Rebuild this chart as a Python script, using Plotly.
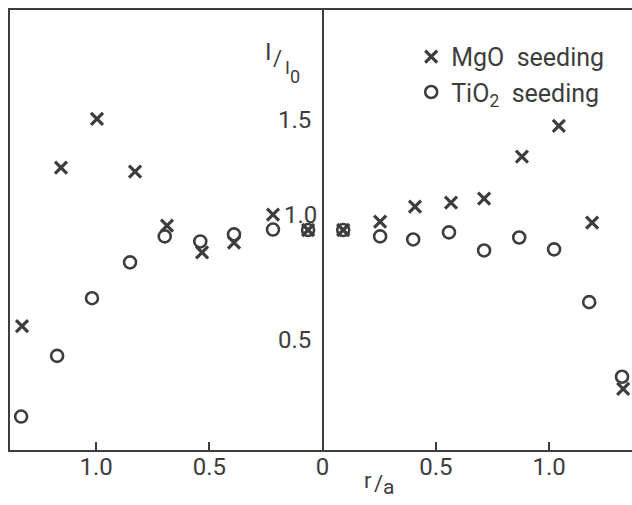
import plotly.graph_objects as go

# ---- data ----
r_mgo = [-1.327, -1.155, -0.996, -0.828, -0.687, -0.532, -0.391, -0.219, -0.064,
         0.091, 0.254, 0.408, 0.567, 0.713, 0.880, 1.043, 1.190, 1.327]
i_mgo = [0.563, 1.283, 1.505, 1.265, 1.020, 0.898, 0.943, 1.070, 1.000,
         1.000, 1.038, 1.106, 1.124, 1.143, 1.333, 1.473, 1.034, 0.278]

r_tio2 = [-1.331, -1.172, -1.018, -0.850, -0.697, -0.540, -0.391, -0.219, -0.064,
          0.091, 0.254, 0.400, 0.558, 0.713, 0.868, 1.022, 1.177, 1.322]
i_tio2 = [0.152, 0.428, 0.690, 0.853, 0.971, 0.948, 0.980, 1.002, 1.000,
          1.000, 0.971, 0.957, 0.989, 0.907, 0.966, 0.912, 0.672, 0.333]

x_tickvals = [-1.0, -0.5, 0.0, 0.5, 1.0]
x_ticktext = ["1.0", "0.5", "0", "0.5", "1.0"]
y_tickvals = [0.5, 1.0, 1.5]
y_ticktext = ["0.5", "1.0", "1.5"]

name_mgo = "MgO  seeding"
name_tio2 = "TiO<sub>2</sub>  seeding"

X_RANGE = [-1.38, 1.366]
Y_RANGE = [0, 2]

INK = "#3d3d3d"
FONT = "Roboto, 'DejaVu Sans', sans-serif"

fig = go.Figure()
fig.add_trace(go.Scatter(
    x=r_mgo, y=i_mgo, mode="markers", name=name_mgo,
    marker=dict(symbol="x-thin-open", size=12, line=dict(color=INK, width=3.2), color=INK),
))
fig.add_trace(go.Scatter(
    x=r_tio2, y=i_tio2, mode="markers", name=name_tio2,
    marker=dict(symbol="circle-open", size=12, line=dict(color=INK, width=2.6), color=INK),
))

pos0 = (0 - X_RANGE[0]) / (X_RANGE[1] - X_RANGE[0])

fig.update_layout(
    width=632, height=505,
    margin=dict(l=10, r=0, t=10, b=55),
    paper_bgcolor="white", plot_bgcolor="white",
    font=dict(family=FONT, size=24, color=INK),
    showlegend=True,
    legend=dict(x=0.645, y=0.946, xanchor="left", yanchor="top",
                bgcolor="rgba(0,0,0,0)", font=dict(size=25, color=INK),
                itemwidth=30, tracegroupgap=0),
    xaxis=dict(range=X_RANGE, showgrid=False, zeroline=True, zerolinecolor=INK,
               zerolinewidth=2, showline=True, linecolor=INK, linewidth=2,
               mirror=True, ticks="inside", ticklen=8, tickwidth=2, tickcolor=INK,
               tickvals=x_tickvals, ticktext=x_ticktext, ticklabelstandoff=-6,
               tickfont=dict(size=24, color=INK)),
    yaxis=dict(range=Y_RANGE, showgrid=False, zeroline=False, showline=True,
               linecolor=INK, linewidth=2, ticks="", showticklabels=False),
    yaxis2=dict(range=Y_RANGE, overlaying="y", anchor="free", position=pos0,
                showgrid=False, zeroline=False, showline=False,
                ticks="outside", ticklen=8, tickwidth=2, tickcolor=INK,
                tickvals=y_tickvals, showticklabels=False),
    yaxis3=dict(range=Y_RANGE, overlaying="y", anchor="free", position=pos0,
                showgrid=False, zeroline=False, showline=False,
                ticks="inside", ticklen=7, tickwidth=2, tickcolor=INK,
                tickvals=y_tickvals, showticklabels=False),
)

# y tick labels (the 1.0 label sits raised above its tick, as in the original)
label_shift = {"1.0": (-4, 15)}
for v, t in zip(y_tickvals, y_ticktext):
    dx, dy = label_shift.get(t, (-10, 0))
    fig.add_annotation(x=0, y=v, xref="x", yref="y", text=t, showarrow=False,
                       xanchor="right", yanchor="middle", xshift=dx, yshift=dy,
                       font=dict(size=24, color=INK))


def txt(x, y, s, size, xs=0, ys=0, xa="center"):
    fig.add_annotation(x=x, y=y, xref="x", yref="y", text=s, showarrow=False,
                       xanchor=xa, yanchor="middle", xshift=xs, yshift=ys,
                       borderpad=0, font=dict(size=size, color=INK))


# y axis title: I / I0 (slanted fraction)
txt(-0.24, 1.81, "I", 24)
txt(-0.20, 1.78, "/", 22)
txt(-0.155, 1.74, "I", 18)
txt(-0.12, 1.70, "0", 18)

# x axis title: r / a (slanted fraction)
txt(0.20, 0, "r", 22, ys=-30)
txt(0.245, 0, "/", 22, ys=-33)
txt(0.29, 0, "a", 21, ys=-37)

fig.write_html("out.html", config={"displayModeBar": False},
               post_script="document.body.style.margin='0px';")
